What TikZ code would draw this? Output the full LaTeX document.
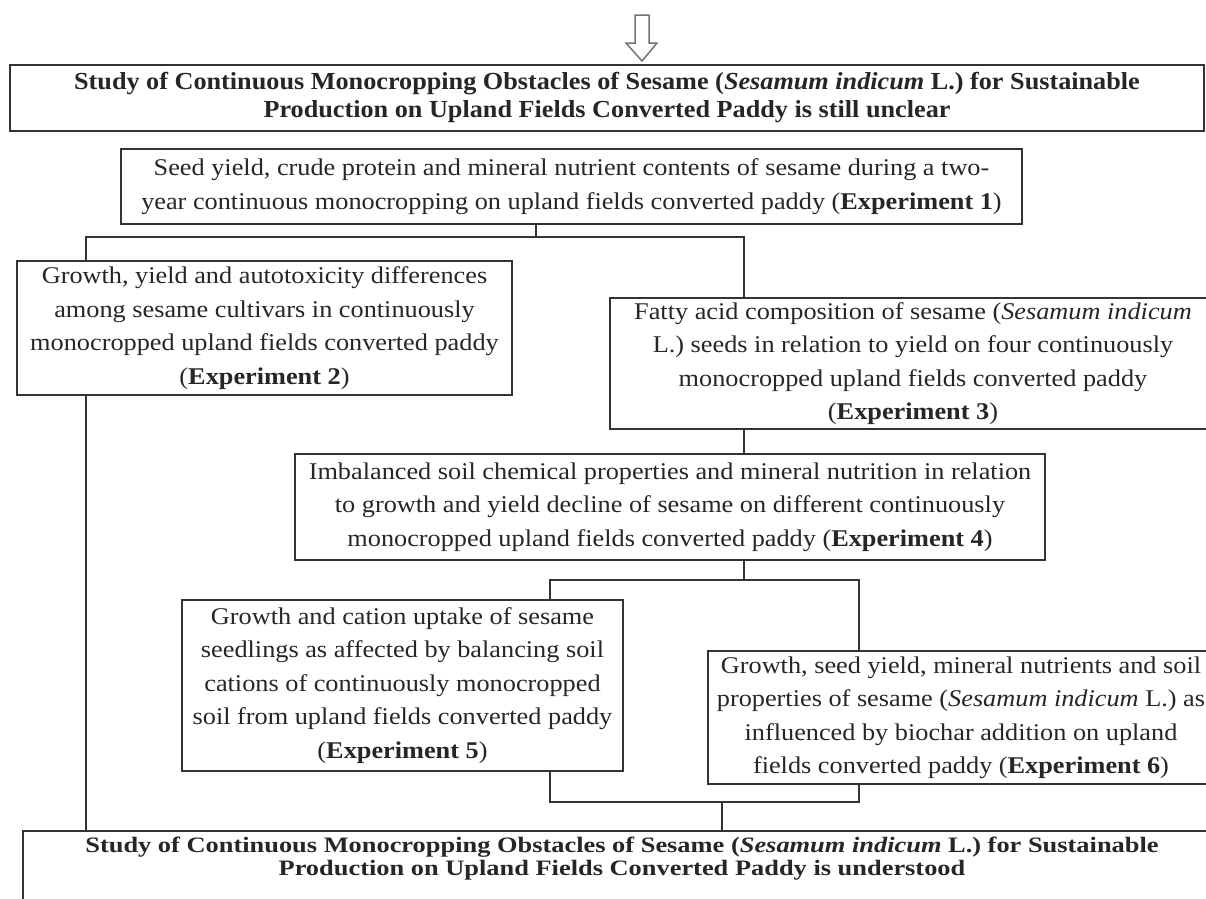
\documentclass[tikz,border=0pt]{standalone}
\usepackage{fontspec}
\setmainfont{Liberation Serif}[FakeStretch=1.095]
\newfontfamily\titlefont{Liberation Serif}[FakeStretch=1.07]
\newfontfamily\botfont{Liberation Serif}[FakeStretch=1.2]
\begin{document}
\begin{tikzpicture}[x=1pt,y=-1pt,
  box/.style={draw=black!80, line width=2.4pt, fill=white, inner sep=0pt, outer sep=0pt,
    align=center, anchor=north west, text=black!85, font=\fontsize{24}{33.5}\selectfont},
  titlebox/.style={box, font=\titlefont\bfseries\fontsize{24.5}{28}\selectfont},
  link/.style={draw=black!80, line width=2pt},
  blockarrow/.style={draw=black!55, line width=1.5pt, fill=white, line join=miter}]
\useasboundingbox (0,0) rectangle (1206,898);
\clip (0,0) rectangle (1206,898);

% hollow arrow at the top
\draw[blockarrow] (635,15) -- (649,15) -- (649,43) -- (657,43) -- (642,61) -- (626,43) -- (635,43) -- cycle;

\node[titlebox, minimum width=1194pt, minimum height=66pt] (top) at (10,65)
  {Study of Continuous Monocropping Obstacles of Sesame (\textit{Sesamum indicum} L.) for Sustainable\\
   Production on Upland Fields Converted Paddy is still unclear};

\node[box, minimum width=901pt, minimum height=75pt] (e1) at (121,149)
  {Seed yield, crude protein and mineral nutrient contents of sesame during a two-\\
   year continuous monocropping on upland fields converted paddy (\textbf{Experiment 1})};

\node[box, minimum width=495pt, minimum height=134pt] (e2) at (17,261)
  {Growth, yield and autotoxicity differences\\
   among sesame cultivars in continuously\\
   monocropped upland fields converted paddy\\
   (\textbf{Experiment 2})};

\node[box, minimum width=606pt, minimum height=131pt] (e3) at (610,298)
  {Fatty acid composition of sesame (\textit{Sesamum indicum}\\
   L.) seeds in relation to yield on four continuously\\
   monocropped upland fields converted paddy\\
   (\textbf{Experiment 3})};

\node[box, minimum width=750pt, minimum height=106pt] (e4) at (295,454)
  {Imbalanced soil chemical properties and mineral nutrition in relation\\
   to growth and yield decline of sesame on different continuously\\
   monocropped upland fields converted paddy (\textbf{Experiment 4})};

\node[box, minimum width=441pt, minimum height=171pt] (e5) at (182,600)
  {Growth and cation uptake of sesame\\
   seedlings as affected by balancing soil\\
   cations of continuously monocropped\\
   soil from upland fields converted paddy\\
   (\textbf{Experiment 5})};

\node[box, minimum width=506pt, minimum height=133pt] (e6) at (708,651)
  {Growth, seed yield, mineral nutrients and soil\\
   properties of sesame (\textit{Sesamum indicum} L.) as\\
   influenced by biochar addition on upland\\
   fields converted paddy (\textbf{Experiment 6})};

\node[box] (bot) at (23,831)
  {\begin{minipage}[t][120pt][t]{1198pt}\centering\botfont\bfseries\fontsize{22}{23}\selectfont
   \vspace*{6pt}Study of Continuous Monocropping Obstacles of Sesame (\textit{Sesamum indicum} L.) for Sustainable\\
   Production on Upland Fields Converted Paddy is understood\end{minipage}};

% junction points
\coordinate (j1) at (536,237);
\coordinate (jl) at (86,237);
\coordinate (jr) at (744,237);
\coordinate (k)  at (744,580);
\coordinate (kl) at (550,580);
\coordinate (kr) at (859,580);
\coordinate (m)  at (722,802);
\coordinate (ml) at (550,802);
\coordinate (mr) at (859,802);

\draw[link] (e1.south -| j1) -- (j1);
\draw[link] (e2.north -| jl) -- (jl) -- (jr) -- (e3.north -| jr);
\draw[link] (e2.south -| jl) -- (bot.north -| jl);
\draw[link] (e3.south -| jr) -- (e4.north -| jr);
\draw[link] (e4.south -| k) -- (k);
\draw[link] (e5.north -| kl) -- (kl) -- (kr) -- (e6.north -| kr);
\draw[link] (e5.south -| ml) -- (ml) -- (mr) -- (e6.south -| mr);
\draw[link] (m) -- (bot.north -| m);
\end{tikzpicture}
\end{document}
